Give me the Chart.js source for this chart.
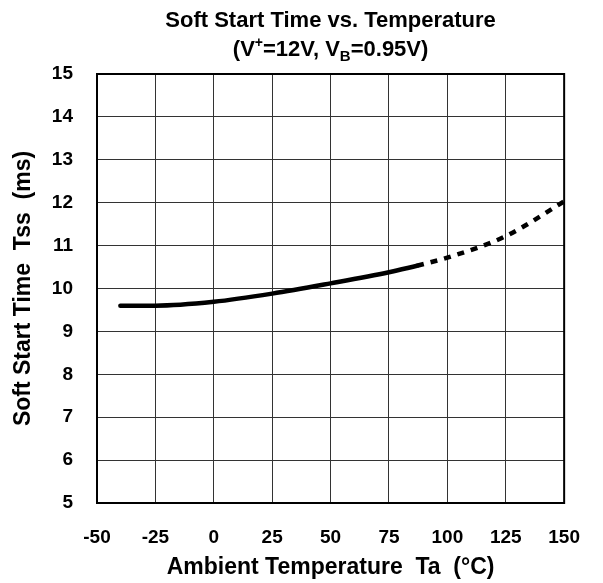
<!DOCTYPE html>
<html>
<head>
<meta charset="utf-8">
<script src="https://cdn.jsdelivr.net/npm/chart.js@4"></script>
<style>
  body { margin: 0; background: #fff; }
  #wrap { width: 603px; height: 583px; }
</style>
</head>
<body>
<div id="wrap"><canvas id="chart" width="603" height="583"></canvas></div>
<script>
// values
const solidTemps = [-40, -25, 0, 25, 50, 75, 87];
const solidTss = [9.6, 9.6, 9.69, 9.88, 10.12, 10.38, 10.53];
const dashedTemps = [87, 100, 125, 150];
const dashedTss = [10.53, 10.72, 11.22, 12.03];
const xTicks = [-50, -25, 0, 25, 50, 75, 100, 125, 150];
const yTicks = [5, 6, 7, 8, 9, 10, 11, 12, 13, 14, 15];

const FONT = '"Liberation Sans", Arial, sans-serif';

function toPoints(xs, ys) {
  return xs.map((x, i) => ({ x: x, y: ys[i] }));
}

// frame round the plot + two-line title with super/subscript
const framePlugin = {
  id: 'frame',
  beforeDatasetsDraw(chart) {
    const { ctx, chartArea: a } = chart;
    ctx.save();
    ctx.strokeStyle = '#000';
    ctx.lineWidth = 2;
    ctx.strokeRect(a.left, a.top, a.right - a.left, a.bottom - a.top);
    ctx.restore();
  },
  afterDraw(chart) {
    const { ctx, chartArea: a } = chart;
    const cx = (a.left + a.right) / 2;
    ctx.save();
    ctx.fillStyle = '#000';
    ctx.textBaseline = 'alphabetic';
    ctx.textAlign = 'left';

    ctx.font = 'bold 22px ' + FONT;
    const t1 = 'Soft Start Time vs. Temperature';
    ctx.fillText(t1, cx - ctx.measureText(t1).width / 2, 27);

    // second line: (V+=12V, VB=0.95V)
    const parts = [
      { t: '(V', size: 22, dy: 0 },
      { t: '+', size: 14, dy: -9 },
      { t: '=12V, V', size: 22, dy: 0 },
      { t: 'B', size: 15, dy: 5 },
      { t: '=0.95V)', size: 22, dy: 0 }
    ];
    let total = 0;
    parts.forEach(p => {
      ctx.font = 'bold ' + p.size + 'px ' + FONT;
      p.w = ctx.measureText(p.t).width;
      total += p.w;
    });
    let x = cx - total / 2;
    parts.forEach(p => {
      ctx.font = 'bold ' + p.size + 'px ' + FONT;
      ctx.fillText(p.t, x, 56 + p.dy);
      x += p.w;
    });
    ctx.restore();
  }
};

new Chart(document.getElementById('chart'), {
  type: 'line',
  data: {
    datasets: [
      {
        data: toPoints(solidTemps, solidTss),
        borderColor: '#000',
        borderWidth: 4.5,
        borderCapStyle: 'round',
        pointRadius: 0,
        cubicInterpolationMode: 'monotone'
      },
      {
        data: toPoints(dashedTemps, dashedTss),
        borderColor: '#000',
        borderWidth: 4.5,
        borderDash: [7, 7],
        borderCapStyle: 'butt',
        pointRadius: 0,
        cubicInterpolationMode: 'monotone'
      }
    ]
  },
  options: {
    responsive: false,
    animation: false,
    layout: { padding: { top: 74, right: 35, left: 0, bottom: 0 } },
    plugins: {
      legend: { display: false },
      tooltip: { enabled: false }
    },
    scales: {
      x: {
        type: 'linear',
        min: -50,
        max: 150,
        afterBuildTicks: s => { s.ticks = xTicks.map(v => ({ value: v })); },
        afterFit: s => { s.height = 80; },
        grid: { color: '#333', lineWidth: 1, drawTicks: false },
        border: { display: false },
        ticks: {
          padding: 23,
          color: '#000',
          font: { family: FONT, size: 19, weight: 'bold' },
          maxRotation: 0
        },
        title: {
          display: true,
          text: 'Ambient Temperature  Ta  (\u00b0C)',
          color: '#000',
          font: { family: FONT, size: 23, weight: 'bold' },
          padding: { top: 0, bottom: 2 }
        }
      },
      y: {
        min: 5,
        max: 15,
        afterBuildTicks: s => { s.ticks = yTicks.map(v => ({ value: v })); },
        afterFit: s => { s.width = 97; },
        grid: { color: '#333', lineWidth: 1, drawTicks: false },
        border: { display: false },
        ticks: {
          padding: 24,
          color: '#000',
          font: { family: FONT, size: 19, weight: 'bold' }
        },
        title: {
          display: true,
          text: 'Soft Start Time  Tss  (ms)',
          color: '#000',
          font: { family: FONT, size: 23, weight: 'bold' },
          padding: { top: 10, bottom: 0 }
        }
      }
    }
  },
  plugins: [framePlugin]
});
</script>
</body>
</html>
